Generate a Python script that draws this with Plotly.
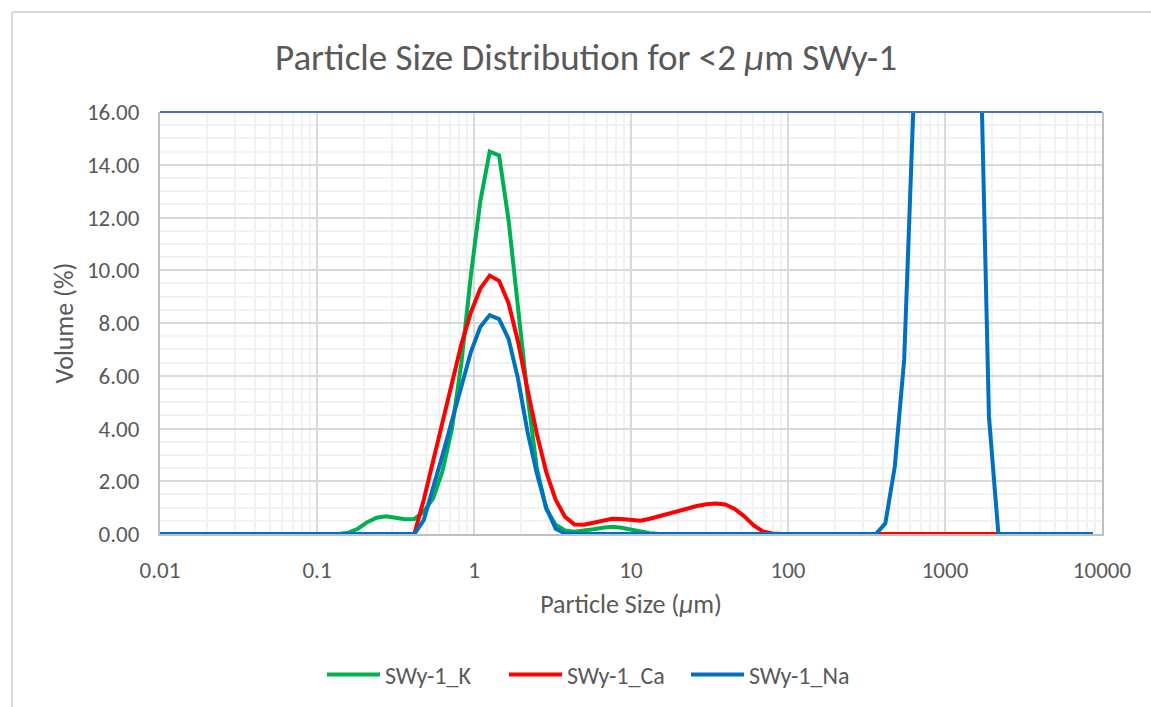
import plotly.graph_objects as go

# Particle size classes (µm), lower edge of each channel
size_um = [
    0.01, 0.01148, 0.01318, 0.01514, 0.01738, 0.01995, 0.02291, 0.0263, 0.0302, 0.03467,
    0.03981, 0.04571, 0.05248, 0.06026, 0.06918, 0.07943, 0.0912, 0.1047, 0.1202, 0.138,
    0.1585, 0.182, 0.2089, 0.2399, 0.2754, 0.3162, 0.3631, 0.4169, 0.4786, 0.5495,
    0.631, 0.7244, 0.8318, 0.955, 1.096, 1.259, 1.445, 1.66, 1.905, 2.188,
    2.512, 2.884, 3.311, 3.802, 4.365, 5.012, 5.754, 6.607, 7.586, 8.71,
    10.0, 11.48, 13.18, 15.14, 17.38, 19.95, 22.91, 26.3, 30.2, 34.67,
    39.81, 45.71, 52.48, 60.26, 69.18, 79.43, 91.2, 104.7, 120.2, 138.0,
    158.5, 182.0, 208.9, 239.9, 275.4, 316.2, 363.1, 416.9, 478.6, 549.5,
    631.0, 724.4, 831.8, 955.0, 1096, 1259, 1445, 1660, 1905, 2188,
    2512, 2884, 3311, 3802, 4365, 5012, 5754, 6607, 7586, 8710,
]

# Volume (%) per size class
vol_k = [
    0, 0, 0, 0, 0, 0, 0, 0, 0, 0,
    0, 0, 0, 0, 0, 0, 0, 0, 0, 0,
    0.05, 0.2, 0.45, 0.62, 0.67, 0.63, 0.56, 0.57, 0.85, 1.35,
    2.4, 4.0, 6.5, 9.8, 12.6, 14.5, 14.35, 11.9, 8.6, 5.3,
    2.5, 0.95, 0.35, 0.13, 0.09, 0.12, 0.18, 0.24, 0.27, 0.24,
    0.17, 0.09, 0.03, 0, 0, 0, 0, 0, 0, 0,
    0, 0, 0, 0, 0, 0, 0, 0, 0, 0,
    0, 0, 0, 0, 0, 0, 0, 0, 0, 0,
    0, 0, 0, 0, 0, 0, 0, 0, 0, 0,
    0, 0, 0, 0, 0, 0, 0, 0, 0, 0,
]

vol_ca = [
    0, 0, 0, 0, 0, 0, 0, 0, 0, 0,
    0, 0, 0, 0, 0, 0, 0, 0, 0, 0,
    0, 0, 0, 0, 0, 0, 0, 0, 1.3, 2.8,
    4.3, 5.8, 7.2, 8.4, 9.3, 9.8, 9.6, 8.75, 7.3, 5.5,
    3.8, 2.35, 1.3, 0.65, 0.36, 0.35, 0.43, 0.53, 0.58, 0.57,
    0.53, 0.5, 0.58, 0.68, 0.78, 0.87, 0.95, 1.06, 1.13, 1.16,
    1.12, 0.95, 0.68, 0.33, 0.1, 0.02, 0, 0, 0, 0,
    0, 0, 0, 0, 0, 0, 0, 0, 0, 0,
    0, 0, 0, 0, 0, 0, 0, 0, 0, 0,
    0, 0, 0, 0, 0, 0, 0, 0, 0, 0,
]

vol_na = [
    0, 0, 0, 0, 0, 0, 0, 0, 0, 0,
    0, 0, 0, 0, 0, 0, 0, 0, 0, 0,
    0, 0, 0, 0, 0, 0, 0, 0, 0.53, 1.7,
    3.0, 4.3, 5.6, 6.9, 7.85, 8.3, 8.15, 7.4, 5.9, 3.9,
    2.3, 1.0, 0.2, 0.02, 0, 0, 0, 0, 0, 0,
    0, 0, 0, 0, 0, 0, 0, 0, 0, 0,
    0, 0, 0, 0, 0, 0, 0, 0, 0, 0,
    0, 0, 0, 0, 0, 0, 0, 0.4, 2.55, 6.6,
    16.4, 28.0, 36.0, 40.0, 38.0, 33.0, 26.0, 20.0, 4.45, 0,
    0, 0, 0, 0, 0, 0, 0, 0, 0, 0,
]

series_names = ["SWy-1_K", "SWy-1_Ca", "SWy-1_Na"]
series_colors = ["#00B050", "#FF0000", "#0070C0"]

x_tick_vals = [0.01, 0.1, 1, 10, 100, 1000, 10000]
x_tick_text = ["0.01", "0.1", "1", "10", "100", "1000", "10000"]

FONT = "Calibri, Carlito, Lato, sans-serif"
TEXT_GREY = "#595959"
W, H = 1151, 707
L, R, T, B = 160, 49, 112, 173


def px_to_xp(px):
    return (px - L) / (W - L - R)


def py_to_yp(py):
    return (H - B - py) / (H - T - B)


fig = go.Figure()
for name, color, vals in zip(series_names, series_colors, [vol_k, vol_ca, vol_na]):
    fig.add_trace(go.Scatter(
        x=size_um, y=vals, name=name, mode="lines",
        line=dict(color=color, width=4),
    ))

fig.update_layout(
    width=W, height=H,
    margin=dict(l=L, r=R, t=T, b=B, autoexpand=False),
    paper_bgcolor="white", plot_bgcolor="white",
    font=dict(family=FONT, color=TEXT_GREY),
    title=dict(
        text="Particle Size Distribution for &lt;2 <i>μ</i>m SWy-1",
        font=dict(size=37, color=TEXT_GREY, family=FONT),
        x=586 / W, xanchor="center", xref="container",
        y=1 - 57 / H, yanchor="middle",
    ),
    legend=dict(
        orientation="h", x=px_to_xp(322), xanchor="left",
        y=py_to_yp(675), yanchor="middle",
        font=dict(size=24, color=TEXT_GREY, family=FONT),
        itemwidth=53, entrywidth=114, entrywidthmode="pixels",
        bgcolor="rgba(0,0,0,0)",
    ),
    showlegend=True,
)

fig.update_xaxes(
    type="log", range=[-2, 4], automargin=False,
    tickmode="array", tickvals=x_tick_vals, ticktext=x_tick_text,
    tickfont=dict(size=23, color=TEXT_GREY, family=FONT),
    ticklabelstandoff=14,
    showgrid=True, gridcolor="#D9D9D9", gridwidth=2,
    minor=dict(dtick="D1", showgrid=True, gridcolor="#F2F2F2", gridwidth=2, ticks=""),
    showline=True, linecolor="#BFBFBF", linewidth=2, layer="below traces",
    zeroline=False, ticks="",
    title=dict(text="Particle Size (<i>μ</i>m)",
               font=dict(size=26, color=TEXT_GREY, family=FONT), standoff=12),
)

fig.update_yaxes(
    range=[0, 16], automargin=False,
    tickmode="linear", tick0=0, dtick=2, tickformat=".2f",
    tickfont=dict(size=23, color=TEXT_GREY, family=FONT),
    ticklabelstandoff=14,
    showgrid=True, gridcolor="#D9D9D9", gridwidth=2,
    minor=dict(dtick=0.5, showgrid=True, gridcolor="#F2F2F2", gridwidth=2, ticks=""),
    showline=True, mirror=True, linecolor="#BFBFBF", linewidth=2, layer="below traces",
    zeroline=False, ticks="",
    title=dict(text="Volume (%)",
               font=dict(size=26, color=TEXT_GREY, family=FONT), standoff=6),
)

# Plot-area top edge and outer chart frame
fig.add_shape(type="line", xref="paper", yref="paper", x0=0, x1=1, y0=1, y1=1,
              line=dict(color="#4472C4", width=2), layer="above")
fig.add_shape(type="line", xref="paper", yref="paper",
              x0=px_to_xp(12), x1=px_to_xp(W + 20), y0=py_to_yp(12), y1=py_to_yp(12),
              line=dict(color="#D9D9D9", width=2))
fig.add_shape(type="line", xref="paper", yref="paper",
              x0=px_to_xp(12), x1=px_to_xp(12), y0=py_to_yp(12), y1=py_to_yp(H + 20),
              line=dict(color="#D9D9D9", width=2))

fig.write_html("out.html")
